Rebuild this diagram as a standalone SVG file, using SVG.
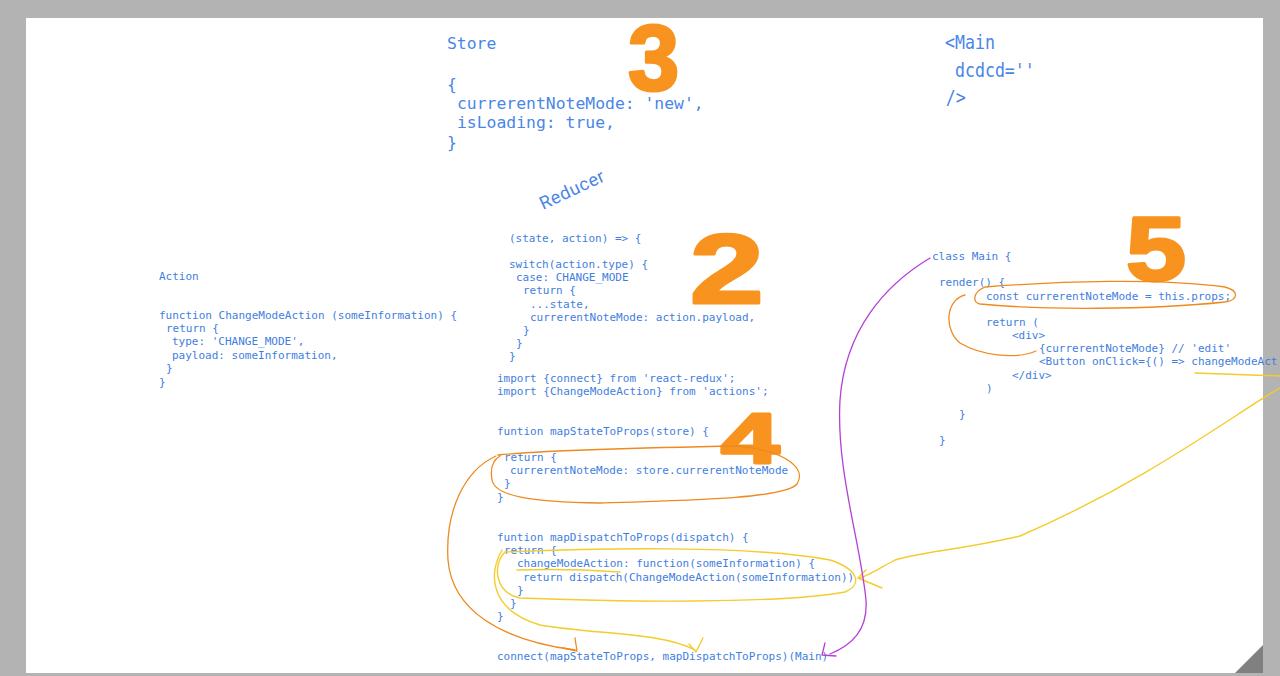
<svg xmlns="http://www.w3.org/2000/svg" width="1280" height="676" viewBox="0 0 1280 676">
<defs>
<style>
.big{font-family:"DejaVu Sans Mono","Liberation Mono",monospace;font-size:16.4px;fill:#4a86e8}
.sm{font-family:"DejaVu Sans Mono","Liberation Mono",monospace;font-size:11px;fill:#3f7ee0}
.num{font-family:"Liberation Sans","DejaVu Sans",sans-serif;font-weight:bold;fill:#f7931e;stroke:#f7931e;stroke-width:3;stroke-linejoin:round}
.or{fill:none;stroke:#ee8a1f;stroke-width:1.3;stroke-linecap:round;stroke-linejoin:round}
.ye{fill:none;stroke:#f4cc2c;stroke-width:1.4;stroke-linecap:round;stroke-linejoin:round}
.pu{fill:none;stroke:#b540d6;stroke-width:1.3;stroke-linecap:round;stroke-linejoin:round}
</style>
</defs>
<rect x="0" y="0" width="1280" height="676" fill="#b3b3b3"/>
<rect x="26" y="18" width="1237" height="655" fill="#ffffff"/>
<polygon points="1235,673 1263,645 1263,673" fill="#808080"/>

<g id="store">
<text class="big" x="447" y="49">Store</text>
<text class="big" x="447" y="90">{</text>
<text class="big" x="457" y="109">currerentNoteMode: 'new',</text>
<text class="big" x="457" y="128">isLoading: true,</text>
<text class="big" x="447" y="148">}</text>
</g>

<g id="main-jsx" transform="translate(945,0) scale(0.83,1)">
<text class="big" style="font-size:20px" x="0" y="49">&lt;Main</text>
<text class="big" style="font-size:20px" x="12" y="77">dcdcd=''</text>
<text class="big" style="font-size:20px" x="1" y="104">/&gt;</text>
</g>

<g id="action">
<text class="sm" x="159" y="280">Action</text>
<text class="sm" x="159" y="319">function ChangeModeAction (someInformation) {</text>
<text class="sm" x="166" y="332">return {</text>
<text class="sm" x="172" y="345">type: 'CHANGE_MODE',</text>
<text class="sm" x="172" y="359">payload: someInformation,</text>
<text class="sm" x="166" y="372">}</text>
<text class="sm" x="159" y="386">}</text>
</g>

<g id="reducer">
<text transform="translate(543,210) rotate(-25)" style="font-family:Roboto,'Liberation Sans',sans-serif;font-size:18px;fill:#4a86e8;letter-spacing:0.6px">Reducer</text>
<text class="sm" x="509" y="242">(state, action) =&gt; {</text>
<text class="sm" x="509" y="268">switch(action.type) {</text>
<text class="sm" x="516" y="281">case: CHANGE_MODE</text>
<text class="sm" x="523" y="294">return {</text>
<text class="sm" x="530" y="308">...state,</text>
<text class="sm" x="530" y="321">currerentNoteMode: action.payload,</text>
<text class="sm" x="523" y="334">}</text>
<text class="sm" x="516" y="347">}</text>
<text class="sm" x="509" y="360">}</text>
</g>

<g id="connect-module">
<text class="sm" x="497" y="382">import {connect} from 'react-redux';</text>
<text class="sm" x="497" y="395">import {ChangeModeAction} from 'actions';</text>
<text class="sm" x="497" y="435">funtion mapStateToProps(store) {</text>
<text class="sm" x="504" y="461">return {</text>
<text class="sm" x="510" y="474">currerentNoteMode: store.currerentNoteMode</text>
<text class="sm" x="504" y="487">}</text>
<text class="sm" x="497" y="501">}</text>
<text class="sm" x="497" y="541">funtion mapDispatchToProps(dispatch) {</text>
<text class="sm" x="504" y="554">return {</text>
<text class="sm" x="517" y="567">changeModeAction: function(someInformation) {</text>
<text class="sm" x="523" y="581">return dispatch(ChangeModeAction(someInformation))</text>
<text class="sm" x="517" y="594">}</text>
<text class="sm" x="510" y="607">}</text>
<text class="sm" x="497" y="620">}</text>
<text class="sm" x="497" y="660">connect(mapStateToProps, mapDispatchToProps)(Main)</text>
</g>

<g id="class-main">
<text class="sm" x="932" y="260">class Main {</text>
<text class="sm" x="939" y="286">render() {</text>
<text class="sm" x="986" y="300">const currerentNoteMode = this.props;</text>
<text class="sm" x="986" y="326">return (</text>
<text class="sm" x="1012" y="339">&lt;div&gt;</text>
<text class="sm" x="1039" y="352">{currerentNoteMode} // 'edit'</text>
<text class="sm" x="1039" y="365">&lt;Button onClick={() =&gt; changeModeAct</text>
<text class="sm" x="1012" y="379">&lt;/div&gt;</text>
<text class="sm" x="986" y="392">)</text>
<text class="sm" x="959" y="418">}</text>
<text class="sm" x="939" y="444">}</text>
</g>

<g id="numbers">
<text class="num" x="628" y="90" font-size="92">3</text>
<text class="num" transform="translate(690,303) scale(1.35,1)" font-size="98">2</text>
<text class="num" transform="translate(721,463) scale(1.5,1)" font-size="70">4</text>
<text class="num" transform="translate(1126,280) scale(1.2,1)" font-size="90">5</text>
</g>

<g id="connectors">
<path class="or" d="M985 287 C1060 281 1160 278 1225 287 C1240 291 1238 300 1225 302 C1150 310 1040 310 980 304 C972 302 973 292 985 287"/>
<path class="or" d="M965 295 C945 300 944 330 960 343 C980 355 1015 360 1036 351"/>
<path class="or" d="M498 455 C560 449 680 447 740 446 C790 452 806 470 797 484 C785 498 700 500 600 503 C530 502 495 496 492 480 C490 468 493 460 500 456"/>
<path class="or" d="M496 456 C465 470 445 510 448 560 C452 610 500 640 575 650"/>
<path class="or" d="M563 648 L577 651 L575 638"/>
<path class="ye" d="M505 552 C600 548 750 545 830 560 C860 570 862 585 845 592 C780 604 620 602 520 598 C495 593 492 565 505 552"/>
<path class="ye" d="M502 550 C488 575 490 610 540 625 C600 635 660 632 695 650"/>
<path class="ye" d="M689 644 L696 652 L703 638"/>
<path class="ye" d="M517 570 C550 569 590 570 620 572"/>
<path class="ye" d="M1195 373 C1220 374 1250 375 1280 376"/>
<path class="ye" d="M1280 388 C1240 410 1150 480 1020 536 C960 550 920 552 895 560 C880 568 870 575 860 578"/>
<path class="ye" d="M866 570 L858 578 L882 588"/>
<path class="pu" d="M930 258 C885 285 845 330 840 400 C836 470 860 540 866 600 C868 630 852 645 830 654"/>
<path class="pu" d="M825 643 L822 655 L836 656"/>
</g>
</svg>
